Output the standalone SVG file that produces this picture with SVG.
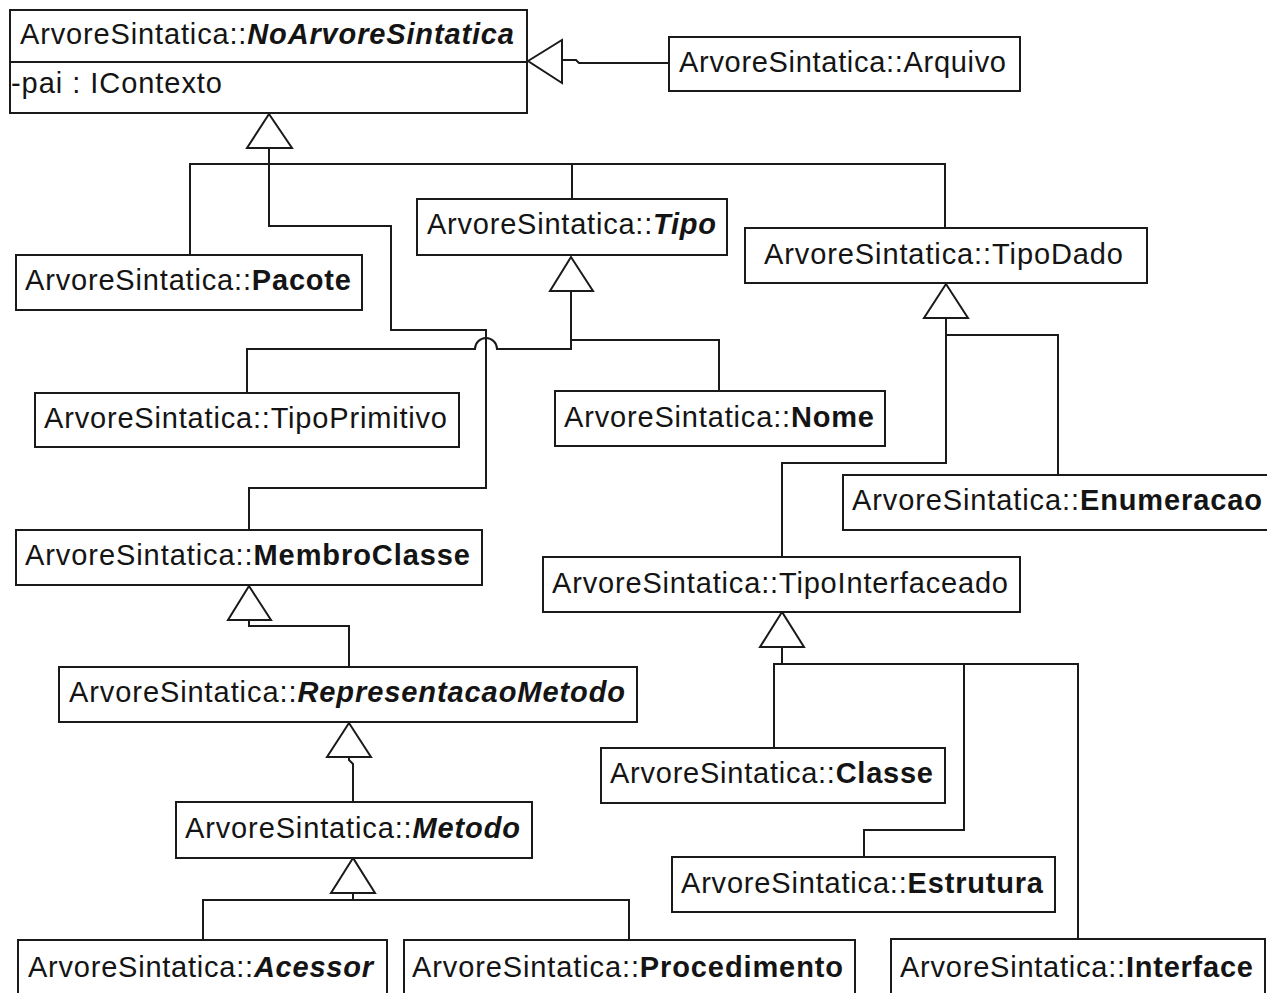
<svg xmlns="http://www.w3.org/2000/svg" width="1267" height="993" viewBox="0 0 1267 993">
  <style>
    .box { fill: #ffffff; stroke: #1a1a1a; stroke-width: 2; }
    .lbl { font-family: "Liberation Sans", Arial, sans-serif; font-size: 29px; fill: #141414; }
    .b { font-weight: bold; }
    .bi { font-weight: bold; font-style: italic; }
    .edge { fill: none; stroke: #1a1a1a; stroke-width: 2; }
    .head { fill: #ffffff; stroke: #1a1a1a; stroke-width: 2; stroke-linejoin: miter; }
  </style>
  <rect width="1267" height="993" fill="#ffffff"/>

  <!-- generalization connectors -->
  <g id="connectors">
    <!-- Arquivo -> NoArvoreSintatica -->
    <path class="edge" d="M669,63 H579 L576,60 H562"/>
    <polygon class="head" points="528,61 562,40 562,83"/>

    <!-- children of NoArvoreSintatica -->
    <path class="edge" d="M269,148 V164"/>
    <path class="edge" d="M190,255 V164 H945 V228"/>
    <path class="edge" d="M572,164 V199"/>
    <path class="edge" d="M269,164 V226 H391 V330 H486 V488 H249 V530"/>
    <polygon class="head" points="269,114 247,148 292,148"/>

    <!-- children of Tipo -->
    <path class="edge" d="M571,291 V349 H497 A11,11 0 0 0 475,349 H247 V393"/>
    <path class="edge" d="M571,340 H719 V391"/>
    <polygon class="head" points="571,257 550,291 593,291"/>

    <!-- children of TipoDado -->
    <path class="edge" d="M946,318 V463 H782 V557"/>
    <path class="edge" d="M946,335 H1058 V475"/>
    <polygon class="head" points="946,284 924,318 968,318"/>

    <!-- MembroClasse -> RepresentacaoMetodo -->
    <path class="edge" d="M249,620 V626 H349 V667"/>
    <polygon class="head" points="249,586 228,620 271,620"/>

    <!-- RepresentacaoMetodo -> Metodo -->
    <path class="edge" d="M349,757 V760 L353,764 V802"/>
    <polygon class="head" points="349,723 327,757 371,757"/>

    <!-- children of Metodo -->
    <path class="edge" d="M353,893 V900"/>
    <path class="edge" d="M203,940 V900 H629 V940"/>
    <polygon class="head" points="353,858 331,893 375,893"/>

    <!-- children of TipoInterfaceado -->
    <path class="edge" d="M782,647 V664"/>
    <path class="edge" d="M774,748 V664 H1078 V939"/>
    <path class="edge" d="M964,664 V830 H864 V857"/>
    <polygon class="head" points="782,612 760,647 804,647"/>
  </g>

  <g id="NoArvoreSintatica">
    <rect class="box" x="10" y="10" width="517" height="103"/>
    <line class="edge" x1="10" y1="62" x2="527" y2="62"/>
    <text class="lbl" x="20" y="44" textLength="494">ArvoreSintatica::<tspan class="bi">NoArvoreSintatica</tspan></text>
    <text class="lbl" x="11" y="93" textLength="211">-pai : IContexto</text>
  </g>

  <g id="Arquivo">
    <rect class="box" x="669" y="37" width="351" height="54"/>
    <text class="lbl" x="679" y="72" textLength="327">ArvoreSintatica::Arquivo</text>
  </g>

  <g id="Pacote">
    <rect class="box" x="16" y="255" width="346" height="55"/>
    <text class="lbl" x="25" y="290" textLength="326">ArvoreSintatica::<tspan class="b">Pacote</tspan></text>
  </g>

  <g id="Tipo">
    <rect class="box" x="417" y="199" width="310" height="56"/>
    <text class="lbl" x="427" y="234" textLength="289">ArvoreSintatica::<tspan class="bi">Tipo</tspan></text>
  </g>

  <g id="TipoDado">
    <rect class="box" x="745" y="228" width="402" height="55"/>
    <text class="lbl" x="764" y="264" textLength="359">ArvoreSintatica::TipoDado</text>
  </g>

  <g id="TipoPrimitivo">
    <rect class="box" x="35" y="393" width="424" height="54"/>
    <text class="lbl" x="44" y="428" textLength="403">ArvoreSintatica::TipoPrimitivo</text>
  </g>

  <g id="Nome">
    <rect class="box" x="555" y="391" width="330" height="55"/>
    <text class="lbl" x="564" y="427" textLength="310">ArvoreSintatica::<tspan class="b">Nome</tspan></text>
  </g>

  <g id="Enumeracao">
    <rect class="box" x="843" y="475" width="440" height="55"/>
    <text class="lbl" x="852" y="510" textLength="410">ArvoreSintatica::<tspan class="b">Enumeracao</tspan></text>
  </g>

  <g id="MembroClasse">
    <rect class="box" x="16" y="530" width="466" height="55"/>
    <text class="lbl" x="25" y="565" textLength="445">ArvoreSintatica::<tspan class="b">MembroClasse</tspan></text>
  </g>

  <g id="TipoInterfaceado">
    <rect class="box" x="543" y="557" width="477" height="55"/>
    <text class="lbl" x="552" y="593" textLength="456">ArvoreSintatica::TipoInterfaceado</text>
  </g>

  <g id="RepresentacaoMetodo">
    <rect class="box" x="59" y="667" width="578" height="55"/>
    <text class="lbl" x="69" y="702" textLength="556">ArvoreSintatica::<tspan class="bi">RepresentacaoMetodo</tspan></text>
  </g>

  <g id="Classe">
    <rect class="box" x="601" y="748" width="344" height="55"/>
    <text class="lbl" x="610" y="783" textLength="323">ArvoreSintatica::<tspan class="b">Classe</tspan></text>
  </g>

  <g id="Metodo">
    <rect class="box" x="176" y="802" width="356" height="56"/>
    <text class="lbl" x="185" y="838" textLength="335">ArvoreSintatica::<tspan class="bi">Metodo</tspan></text>
  </g>

  <g id="Estrutura">
    <rect class="box" x="672" y="857" width="383" height="55"/>
    <text class="lbl" x="681" y="893" textLength="362">ArvoreSintatica::<tspan class="b">Estrutura</tspan></text>
  </g>

  <g id="Acessor">
    <rect class="box" x="18" y="940" width="369" height="70"/>
    <text class="lbl" x="28" y="977" textLength="345">ArvoreSintatica::<tspan class="bi">Acessor</tspan></text>
  </g>

  <g id="Procedimento">
    <rect class="box" x="404" y="940" width="451" height="70"/>
    <text class="lbl" x="412" y="977" textLength="431">ArvoreSintatica::<tspan class="b">Procedimento</tspan></text>
  </g>

  <g id="Interface">
    <rect class="box" x="891" y="939" width="374" height="70"/>
    <text class="lbl" x="900" y="977" textLength="353">ArvoreSintatica::<tspan class="b">Interface</tspan></text>
  </g>
</svg>
